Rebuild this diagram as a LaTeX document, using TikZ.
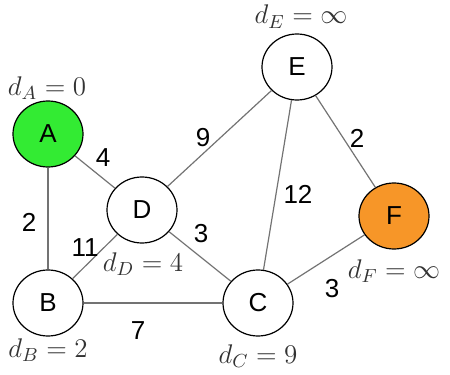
\documentclass[tikz,border=0pt]{standalone}
\usepackage{fix-cm}
\usepackage[no-math]{fontspec}
\newfontfamily\arialfont{Liberation Sans}
\usetikzlibrary{shapes.geometric}
\definecolor{visited}{RGB}{51,235,51}
\definecolor{target}{RGB}{247,150,40}
\definecolor{edgegray}{RGB}{115,115,115}

\begin{document}
\begin{tikzpicture}[x=0.5pt, y=-0.5pt,
  vertex/.style={draw, ellipse, line width=0.6pt, minimum width=35pt,
    minimum height=33pt, inner sep=0pt, font=\fontsize{13}{15}\selectfont\arialfont},
  road/.style={draw=edgegray, line width=0.6pt},
  weight/.style={font=\fontsize{13}{15}\selectfont\arialfont},
  dist/.style={anchor=base, inner sep=1pt, text=black!80, font=\fontsize{13.5}{16}\selectfont}
]
\useasboundingbox (0,0) rectangle (450,375);
% vertices
\node[vertex, fill=visited] (A) at (48,134) {A};
\node[vertex] (B) at (48,303) {B};
\node[vertex] (C) at (258,303) {C};
\node[vertex] (D) at (142,210) {D};
\node[vertex] (E) at (297,67) {E};
\node[vertex, fill=target] (F) at (394,216) {F};
% edges
\draw[road] (A) -- (D);
\draw[road] (A) -- (B);
\draw[road] (B) -- (D);
\draw[road] (B) -- (C);
\draw[road] (D) -- (C);
\draw[road] (D) -- (E);
\draw[road] (E) -- (C);
\draw[road] (E) -- (F);
\draw[road] (C) -- (F);
% weights
\node[weight] (wAD) at (103,158) {4};
\node[weight] (wAB) at (29,222) {2};
\node[weight] (wDE) at (203,138) {9};
\node[weight] (wBD) at (85,248) {11};
\node[weight] (wDC) at (201,234) {3};
\node[weight] (wEC) at (298,194) {12};
\node[weight] (wEF) at (357,138) {2};
\node[weight] (wCF) at (332,289) {3};
\node[weight] (wBC) at (138,331) {7};
% distances
\node[dist] (dA) at (47,95) {$d_A = 0$};
\node[dist] (dB) at (48,357) {$d_B = 2$};
\node[dist] (dC) at (258,363) {$d_C = 9$};
\node[dist] (dD) at (143,271) {$d_D = 4$};
\node[dist] (dE) at (301,24) {$d_E = \infty$};
\node[dist] (dF) at (394,278) {$d_F = \infty$};
\end{tikzpicture}
\end{document}
